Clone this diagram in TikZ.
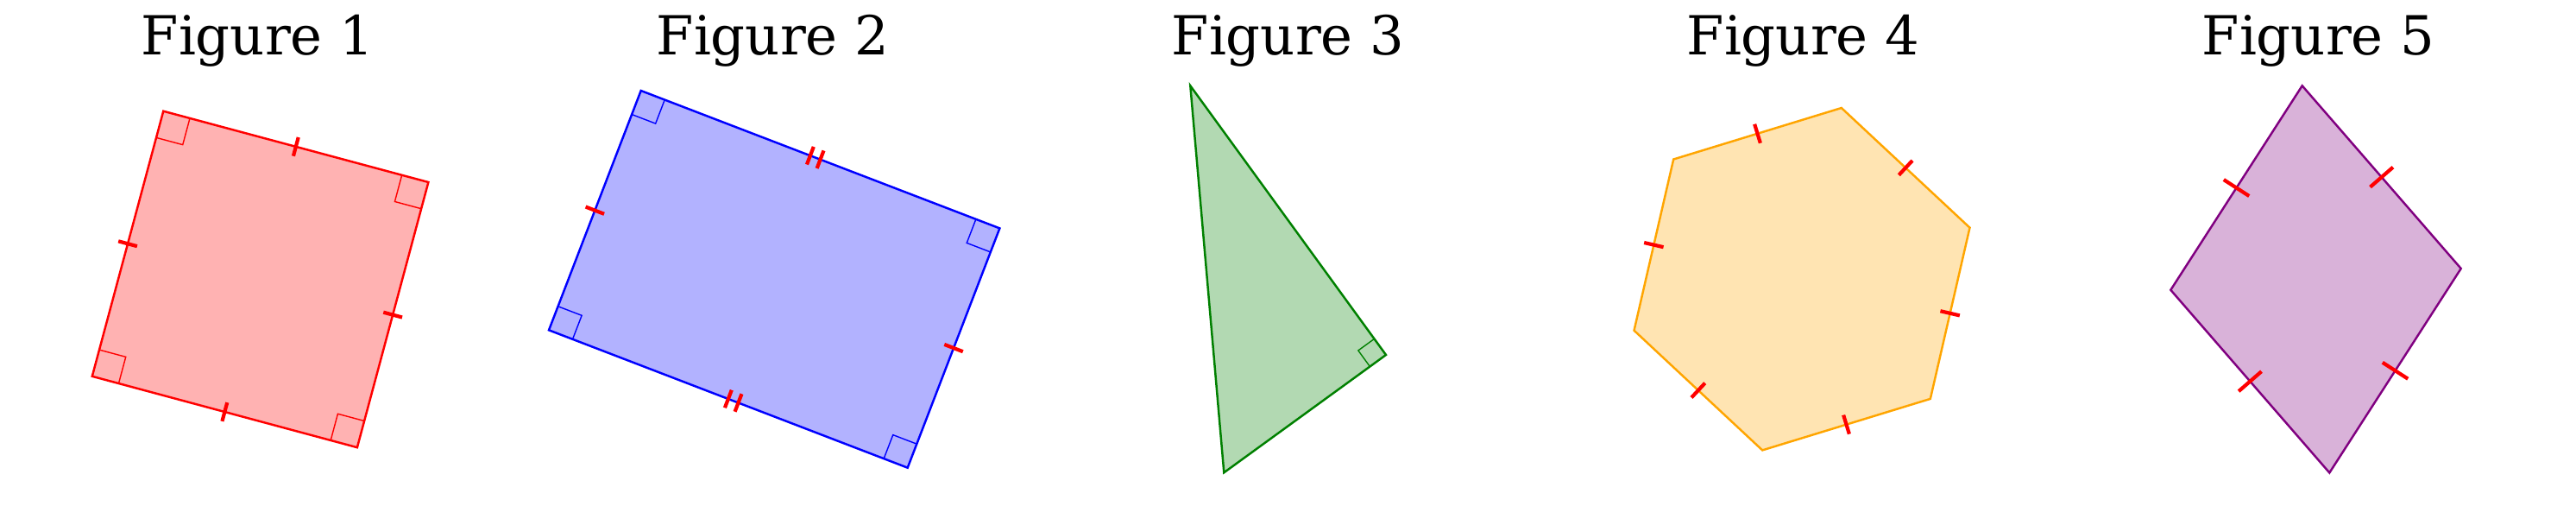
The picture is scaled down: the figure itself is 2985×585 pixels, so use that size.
\documentclass[tikz,border=0pt]{standalone}
\usepackage{fontspec}
\setmainfont{DejaVu Serif}
\usetikzlibrary{calc}
\definecolor{mplgreen}{RGB}{0,128,0}
\definecolor{mplorange}{RGB}{255,165,0}
\definecolor{mplpurple}{RGB}{128,0,128}
\tikzset{
	poly/.style={
		line width=1.4pt,
		line join=miter},
	poly1/.style={poly, draw=red, fill=red!30},
	poly2/.style={poly, draw=blue, fill=blue!30},
	poly3/.style={poly, draw=mplgreen, fill=mplgreen!30},
	poly4/.style={poly, draw=mplorange, fill=mplorange!30},
	poly5/.style={poly, draw=mplpurple, fill=mplpurple!30},
	hashmark/.style={
		draw=red,
		line width=2.4pt},
	anglebox/.style={
		line width=0.8pt,
		line join=miter},
	figtitle/.style={
		anchor=base,
		inner sep=0pt,
		font=\fontsize{35.5}{40}\selectfont}
}
\newcommand{\sidetick}[3]{\draw[hashmark] ($(#1)!0.5!(#2)!#3!90:(#2)$) -- ($(#1)!0.5!(#2)!#3!-90:(#2)$);}
\newcommand{\sidedtick}[4]{\sidetick{#1}{#2}{#3}
	\draw[hashmark] ($(#1)!0.5!(#2)!#4!(#1)!#3!90:(#2)$) -- ($(#1)!0.5!(#2)!#4!(#1)!#3!-90:(#2)$);}
\newcommand{\cornermark}[5]{\draw[anglebox, draw=#5] ($(#1)!#4!(#2)$) -- ($(#1)!#4!(#2) + (#1)!#4!(#3) - (#1)$) -- ($(#1)!#4!(#3)$);}

\begin{document}
\begin{tikzpicture}
[x=0.02cm, y=-0.02cm]
\useasboundingbox (0,0) rectangle (2985,585);
\node[figtitle] (title1) at (298.5,63.3) {Figure 1};
\node[figtitle] (title2) at (895.5,63.3) {Figure 2};
\node[figtitle] (title3) at (1492.5,63.3) {Figure 3};
\node[figtitle] (title4) at (2089.5,63.3) {Figure 4};
\node[figtitle] (title5) at (2686.5,63.3) {Figure 5};

\coordinate (sq1) at (189.3,128.7);
\coordinate (sq2) at (496.4,211.0);
\coordinate (sq3) at (413.9,518.2);
\coordinate (sq4) at (106.8,435.8);
\draw[poly1] (sq1) -- (sq2) -- (sq3) -- (sq4) -- cycle;
\cornermark{sq1}{sq2}{sq4}{0.636cm}{red}
\cornermark{sq2}{sq3}{sq1}{0.636cm}{red}
\cornermark{sq3}{sq4}{sq2}{0.636cm}{red}
\cornermark{sq4}{sq1}{sq3}{0.636cm}{red}
\sidetick{sq1}{sq2}{0.225cm}
\sidetick{sq2}{sq3}{0.225cm}
\sidetick{sq3}{sq4}{0.225cm}
\sidetick{sq4}{sq1}{0.225cm}

\coordinate (re1) at (742.7,105.0);
\coordinate (re2) at (1158.4,264.4);
\coordinate (re3) at (1051.7,541.7);
\coordinate (re4) at (636.0,382.3);
\draw[poly2] (re1) -- (re2) -- (re3) -- (re4) -- cycle;
\cornermark{re1}{re2}{re4}{0.59cm}{blue}
\cornermark{re2}{re3}{re1}{0.59cm}{blue}
\cornermark{re3}{re4}{re2}{0.59cm}{blue}
\cornermark{re4}{re1}{re3}{0.59cm}{blue}
\sidedtick{re1}{re2}{0.22cm}{0.25cm}
\sidetick{re2}{re3}{0.23cm}
\sidedtick{re3}{re4}{0.22cm}{0.25cm}
\sidetick{re4}{re1}{0.23cm}

\coordinate (tr1) at (1379.3,99.3);
\coordinate (tr2) at (1606.0,411.0);
\coordinate (tr3) at (1418.3,547.3);
\draw[poly3] (tr1) -- (tr2) -- (tr3) -- cycle;
\cornermark{tr2}{tr1}{tr3}{0.46cm}{mplgreen}

\coordinate (hx1) at (2282.5,263.7);
\coordinate (hx2) at (2133.8,125.0);
\coordinate (hx3) at (1939.2,184.5);
\coordinate (hx4) at (1893.5,382.7);
\coordinate (hx5) at (2042.2,521.4);
\coordinate (hx6) at (2236.8,461.9);
\draw[poly4] (hx1) -- (hx2) -- (hx3) -- (hx4) -- (hx5) -- (hx6) -- cycle;
\sidetick{hx1}{hx2}{0.23cm}
\sidetick{hx2}{hx3}{0.23cm}
\sidetick{hx3}{hx4}{0.23cm}
\sidetick{hx4}{hx5}{0.23cm}
\sidetick{hx5}{hx6}{0.23cm}
\sidetick{hx6}{hx1}{0.23cm}

\coordinate (rh1) at (2667.7,99.3);
\coordinate (rh2) at (2851.7,311.0);
\coordinate (rh3) at (2699.3,547.5);
\coordinate (rh4) at (2515.3,335.8);
\draw[poly5] (rh1) -- (rh2) -- (rh3) -- (rh4) -- cycle;
\sidetick{rh1}{rh2}{0.35cm}
\sidetick{rh2}{rh3}{0.35cm}
\sidetick{rh3}{rh4}{0.35cm}
\sidetick{rh4}{rh1}{0.35cm}
\end{tikzpicture}
\end{document}
